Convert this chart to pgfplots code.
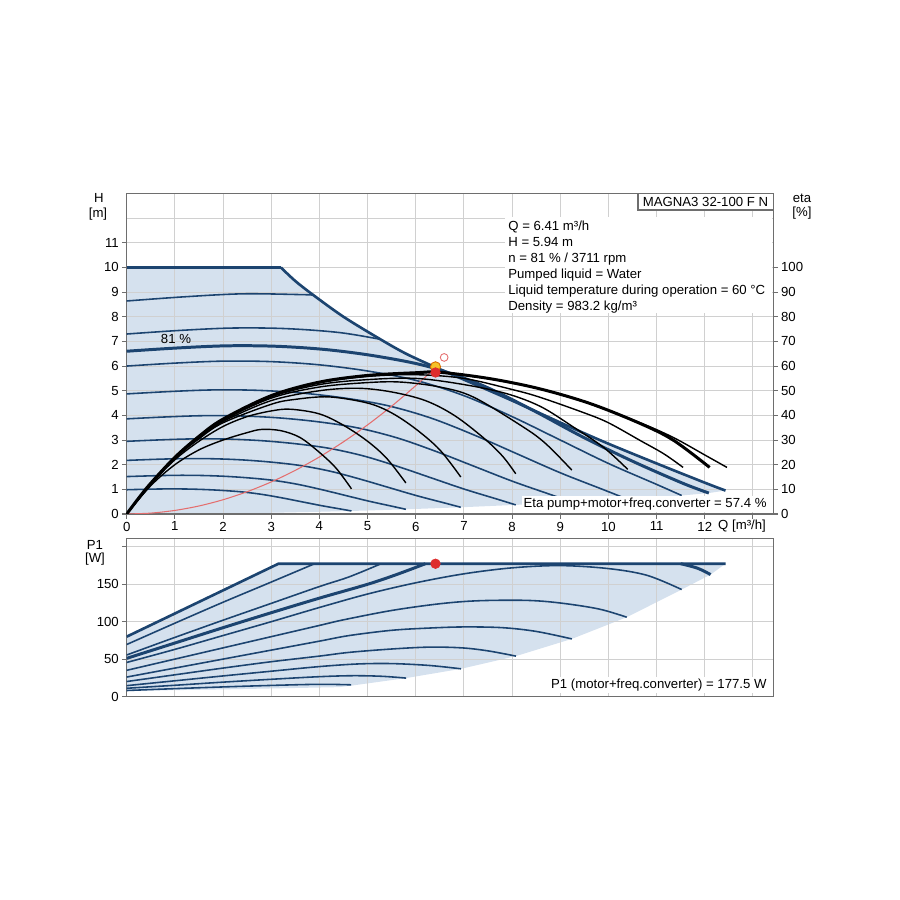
\documentclass[border=0pt]{standalone}
\usepackage{pgfplots}
\pgfplotsset{compat=1.18}
\usepackage{fontspec}
\setmainfont{Liberation Sans}
\definecolor{bfill}{RGB}{213,225,238}
\definecolor{navy}{RGB}{28,68,112}
\definecolor{gridc}{RGB}{208,208,208}
\definecolor{axc}{RGB}{110,110,110}
\definecolor{rdot}{RGB}{222,45,45}
\definecolor{ydot}{RGB}{245,195,40}
\definecolor{sysc}{RGB}{228,110,110}
\newcommand{\fs}{\fontsize{7.5}{9}\selectfont}
\begin{document}
\begin{tikzpicture}
\pgfplotsset{
  base/.style={scale only axis, set layers, width=129.3mm, xmin=0, xmax=13.42,
    axis line style={axc, line width=0.7pt}, tick style={axc, line width=0.6pt},
    major tick length=2.8pt, tick align=outside, grid=major,
    grid style={gridc, line width=0.6pt}, tick label style={font=\fs, inner sep=1.5pt},
    /pgf/number format/assume math mode=true, anchor=south west},
  bl/.style={navy, line width=0.9pt, smooth, tension=0.55},
  blt/.style={navy, line width=1.7pt, smooth, tension=0.55},
  bk/.style={black, line width=0.8pt, smooth, tension=0.55},
  bkt/.style={black, line width=1.7pt, smooth, tension=0.55},
}
% ---------------- top: H(Q) ----------------
\begin{axis}[base, at={(25.34mm,77.2mm)}, height=64.1mm, ymin=0, ymax=13,
  xtick={0,1,2,3,4,5,6,7,8,9,10,11,12,13},
  xticklabels={0,1,2,3,4,5,6,7,8,9,10,11,12,{}},
  ytick={0,1,2,3,4,5,6,7,8,9,10,11},
  extra y ticks={12,13}, extra y tick labels={},
  extra y tick style={major tick length=0pt, grid=major},
  tick pos=left]
\addplot[draw=none, fill=bfill, on layer=axis background] coordinates {
 (0,0)(0,10)(3.2,10)(3.5,9.45)(3.86,8.9)(4.5,8.0)(5.28,7.07)(5.8,6.5)(6.41,5.95)(7,5.45)(8,4.6)(9.18,3.55)(9.62,3.17)(10,2.85)(11,2.05)(12,1.27)(12.43,0.95)
 (12.084,0.85)(11.52,0.75)(10.38,0.609)(9.239,0.482)(8.076,0.369)(6.935,0.272)(5.795,0.19)(4.666,0.123)(4,0.09)(3,0.05)(2,0.02)(0,0)} -- cycle;
% constant-speed curves
\addplot[bl] coordinates {(0,0.984)(0.405,1.004)(0.81,1.017)(1.215,1.014)(1.62,0.992)(2.025,0.951)(2.43,0.889)(2.835,0.787)(3.24,0.648)(3.645,0.492)(4.05,0.336)(4.455,0.197)(4.666,0.123)};
\addplot[bl] coordinates {(0,1.518)(0.503,1.548)(1.006,1.569)(1.509,1.564)(2.012,1.531)(2.515,1.467)(3.018,1.371)(3.521,1.214)(4.024,0.999)(4.527,0.759)(5.03,0.519)(5.533,0.304)(5.795,0.190)};
\addplot[bl] coordinates {(0,2.174)(0.602,2.218)(1.204,2.247)(1.806,2.240)(2.408,2.193)(3.01,2.102)(3.612,1.964)(4.214,1.740)(4.816,1.431)(5.418,1.087)(6.02,0.743)(6.622,0.435)(6.935,0.272)};
\addplot[bl] coordinates {(0,2.948)(0.701,3.007)(1.402,3.047)(2.103,3.037)(2.804,2.973)(3.505,2.850)(4.206,2.663)(4.907,2.359)(5.608,1.941)(6.309,1.474)(7.01,1.007)(7.711,0.590)(8.076,0.369)};
\addplot[bl] coordinates {(0,3.859)(0.802,3.936)(1.604,3.988)(2.406,3.975)(3.208,3.891)(4.01,3.731)(4.812,3.486)(5.614,3.087)(6.416,2.541)(7.218,1.930)(8.02,1.319)(8.822,0.772)(9.239,0.482)};
\addplot[bl] coordinates {(0,4.871)(0.901,4.968)(1.802,5.033)(2.703,5.017)(3.604,4.911)(4.505,4.708)(5.406,4.400)(6.307,3.897)(7.208,3.207)(8.109,2.435)(9.01,1.664)(9.911,0.974)(10.38,0.609)};
\addplot[bl] coordinates {(0,6.0)(1,6.12)(2,6.2)(3,6.18)(4,6.05)(5,5.8)(6,5.42)(7,4.8)(8,3.95)(9,3.0)(10,2.05)(11,1.2)(11.52,0.75)};
\addplot[bl] coordinates {(0,7.30)(1.103,7.446)(2.206,7.543)(3.309,7.519)(4.412,7.36)(5.28,7.08)};
\addplot[bl] coordinates {(0,8.64)(1.2,8.81)(2.4,8.93)(3.6,8.9)(3.86,8.88)};
\addplot[blt] coordinates {(0,6.602)(1.049,6.734)(2.098,6.822)(3.147,6.800)(4.196,6.657)(5.245,6.382)(6.294,5.964)(7.343,5.25)(8.392,4.25)(9.441,3.15)(10.49,2.15)(11.539,1.25)(12.084,0.85)};
% max curve
\addplot[navy, line width=1.5pt] coordinates {(0,10)(3.2,10)};
\addplot[navy, line width=1.5pt, smooth, tension=0.5] coordinates {(3.2,10)(3.5,9.45)(3.86,8.9)(4.5,8.0)(5.28,7.07)(5.8,6.5)(6.41,5.95)(7,5.45)(8,4.6)(9.18,3.55)(10,2.85)(11,2.05)(12,1.27)(12.43,0.95)};
% system curve
\addplot[sysc, line width=0.6pt, smooth] coordinates {(0,0)(0.5,0.036)(1,0.145)(1.5,0.325)(2,0.578)(2.5,0.904)(3,1.301)(3.5,1.771)(4,2.314)(4.5,2.928)(5,3.615)(5.5,4.374)(6,5.206)(6.41,5.94)};
\addplot[only marks, mark=*, mark size=2.9pt, mark options={fill=ydot, draw=orange!85!black, line width=0.5pt}] coordinates {(6.41,5.97)};
\addplot[only marks, mark=o, mark size=2.2pt, mark options={draw=sysc, line width=0.5pt}] coordinates {(6.59,6.35)};
\end{axis}
% ---------------- eta axis ----------------
\begin{axis}[base, at={(25.34mm,77.2mm)}, height=64.1mm, ymin=0, ymax=130,
  grid=none, axis x line=none, axis y line*=right, ytick={0,10,20,30,40,50,60,70,80,90,100}]
\addplot[bk] coordinates {(0,0)(0.5,11.5)(1,20)(1.5,26)(2,30)(2.5,33)(2.8,34.3)(3.2,33.8)(3.6,31)(4,25)(4.35,18.5)(4.666,10.2)};
\addplot[bk] coordinates {(0,0)(0.5,12)(1,22)(1.5,29.5)(2,35.5)(2.5,39.5)(3,41.8)(3.4,42.5)(4,40.6)(4.5,36)(5,29.5)(5.4,22.5)(5.795,12.6)};
\addplot[bk] coordinates {(0,0)(0.5,12)(1,22.5)(1.5,30.5)(2,37)(3,44.5)(3.5,46.5)(4.2,47.5)(5,45)(5.5,41)(6,34.5)(6.5,26)(6.935,15)};
\addplot[bk] coordinates {(0,0)(0.5,12.2)(1,22.8)(1.5,31)(2,37.5)(3,46)(4,50)(4.8,51)(5.5,49.5)(6.2,46)(6.8,40)(7.4,31)(7.8,23.5)(8.076,16.3)};
\addplot[bk] coordinates {(0,0)(0.5,12.3)(1,22.9)(1.5,31.2)(2,38)(3,47)(4,51.5)(5,53.3)(5.7,53.5)(6.5,51.5)(7.2,47.4)(8.23,35.3)(8.7,28.5)(9.24,17.8)};
\addplot[bk] coordinates {(0,0)(0.5,12.4)(1,23)(1.5,31.4)(2,38.2)(3,47.5)(4,52.5)(5,54.5)(6,55)(7,52.5)(7.89,48.8)(8.6,43.5)(9.27,35.3)(9.9,27)(10.4,18.1)};
\addplot[bk] coordinates {(0,0)(0.5,12.5)(1,23)(1.5,31.5)(2,38.4)(3,47.8)(4,53.2)(5,55.8)(6,56.5)(7,55)(8,50.5)(8.57,47.4)(9.5,41)(10,37)(10.66,29.8)(11.15,24.4)(11.55,18.9)};
\addplot[bk] coordinates {(0,0)(0.5,12.5)(1,23)(1.5,31.5)(2,38.5)(3,48)(4,53.4)(5,56)(6,57.1)(6.5,57.3)(7.54,54.8)(8.57,50.7)(9.62,44.7)(10.66,37)(11.35,31)(12.04,23.5)(12.46,18.9)};
\addplot[bkt] coordinates {(0,0)(0.25,6.5)(0.5,12.5)(1,23)(1.5,31.5)(2,38.5)(3,48)(4,53.5)(5,56.2)(6,57.3)(6.5,57.5)(7.54,54.9)(8.57,50.8)(9.62,44.8)(10.66,36.7)(11.35,29.9)(12.1,18.9)};
\addplot[only marks, mark=*, mark size=2.7pt, color=rdot] coordinates {(6.41,57.4)};
\end{axis}
% ---------------- bottom: P1(Q) ----------------
\begin{axis}[base, at={(25.34mm,40.7mm)}, height=31.64mm, ymin=0, ymax=211.5,
  xtick={0,1,2,3,4,5,6,7,8,9,10,11,12,13}, xticklabels={},
  ytick={0,50,100,150,200}, yticklabels={0,50,100,150,{}},
  tick pos=left, xtick style={draw=none}]
\addplot[draw=none, fill=bfill, on layer=axis background] coordinates {
 (0,7.5)(0,80)(3.15,177.5)(12.43,177.5)(12.12,163)(11.52,143)(10.38,106)(9.24,77)(8.08,54)(6.94,37)(5.8,24.6)(4.66,14.5)(4.41,12.5)(2,9.5)(0,7.5)} -- cycle;
\addplot[bl] coordinates {(0,8)(1,10.5)(2,12.8)(3,14.8)(4,16.3)(4.66,15.6)};
\addplot[bl] coordinates {(0,11)(1,15)(2,19.2)(3,23)(4,26.5)(4.7,27.8)(5.3,27)(5.8,24.6)};
\addplot[bl] coordinates {(0,14.5)(1,21)(2,27.5)(3,33.8)(4,40)(4.8,43.5)(5.5,44)(6.28,41.5)(6.94,37)};
\addplot[bl] coordinates {(0,20)(1,29)(2,38)(3,46.5)(4,54)(4.62,59)(5.5,63.5)(6.28,66)(6.96,65)(7.5,61)(8.08,54)};
\addplot[bl] coordinates {(0,26)(1,38)(2,50)(3,62)(4,74)(4.62,81.5)(5.5,88.5)(6.28,91.5)(7,93)(7.8,92)(8.5,87)(9.24,77)};
\addplot[bl] coordinates {(0,35)(1,50)(2,65)(3,80)(4,95)(4.5,102.5)(5.5,115)(6.5,124)(7.3,128)(8.3,128.5)(9,125)(9.8,117)(10.38,106)};
\addplot[bl] coordinates {(0,45.5)(1,63)(2,81.5)(3,100)(4,119)(5,137)(6,152)(7,164)(8,172)(9,175)(10,171)(10.8,162)(11.52,143)};
\addplot[bl] coordinates {(0,55.5)(1,79)(2,102)(3,124.5)(4,147)(4.62,160)(5.28,177.5)};
\addplot[bl] coordinates {(0,69.5)(1,98)(2,126)(3,153)(3.9,177.5)};
\addplot[blt] coordinates {(0,51)(1,71.5)(2,92)(3,112)(4,131.5)(5,150)(5.6,163)(6.2,177.5)};
\addplot[blt] coordinates {(11.5,177.5)(11.85,171.5)(12.12,163)};
\addplot[navy, line width=1.5pt] coordinates {(0,80)(3.15,177.5)(12.43,177.5)};
\addplot[only marks, mark=*, mark size=2.7pt, color=rdot] coordinates {(6.41,177.5)};
\end{axis}
% ---------------- texts ----------------
\node[font=\fs] at (19.8mm,140.4mm) {H};
\node[font=\fs] at (19.6mm,137.2mm) {[m]};
\node[font=\fs] at (160.4mm,140.4mm) {eta};
\node[font=\fs] at (160.4mm,137.4mm) {[\%]};
\node[font=\fs] at (19mm,71mm) {P1};
\node[font=\fs] at (19mm,68.2mm) {[W]};
\node[font=\fs] at (148.4mm,74.8mm) {Q [m³/h]};
\node[font=\fs] at (35.2mm,112.3mm) {81 \%};
\filldraw[fill=white, draw=axc, line width=0.6pt] (127.6mm,138.0mm) rectangle (154.66mm,141.34mm);
\node[font=\fs] at (141.1mm,139.65mm) {MAGNA3 32-100 F N};
\fill[white] (101mm,117.4mm) rectangle (154.4mm,136.6mm);
\node[font=\fs, anchor=base west, inner sep=0pt] at (101.6mm,133.8mm) {Q = 6.41 m³/h};
\node[font=\fs, anchor=base west, inner sep=0pt] at (101.6mm,130.6mm) {H = 5.94 m};
\node[font=\fs, anchor=base west, inner sep=0pt] at (101.6mm,127.4mm) {n = 81 \% / 3711 rpm};
\node[font=\fs, anchor=base west, inner sep=0pt] at (101.6mm,124.2mm) {Pumped liquid = Water};
\node[font=\fs, anchor=base west, inner sep=0pt] at (101.6mm,121.0mm) {Liquid temperature during operation = 60 °C};
\node[font=\fs, anchor=base west, inner sep=0pt] at (101.6mm,117.8mm) {Density = 983.2 kg/m³};
\node[font=\fs, anchor=east, fill=white, inner sep=1.2pt] at (153.8mm,79.2mm) {Eta pump+motor+freq.converter = 57.4 \%};
\node[font=\fs, anchor=east, fill=white, inner sep=1.2pt] at (153.8mm,43.0mm) {P1 (motor+freq.converter) = 177.5 W};
\path (0mm,0mm) rectangle (180mm,180mm);
\end{tikzpicture}
\end{document}
